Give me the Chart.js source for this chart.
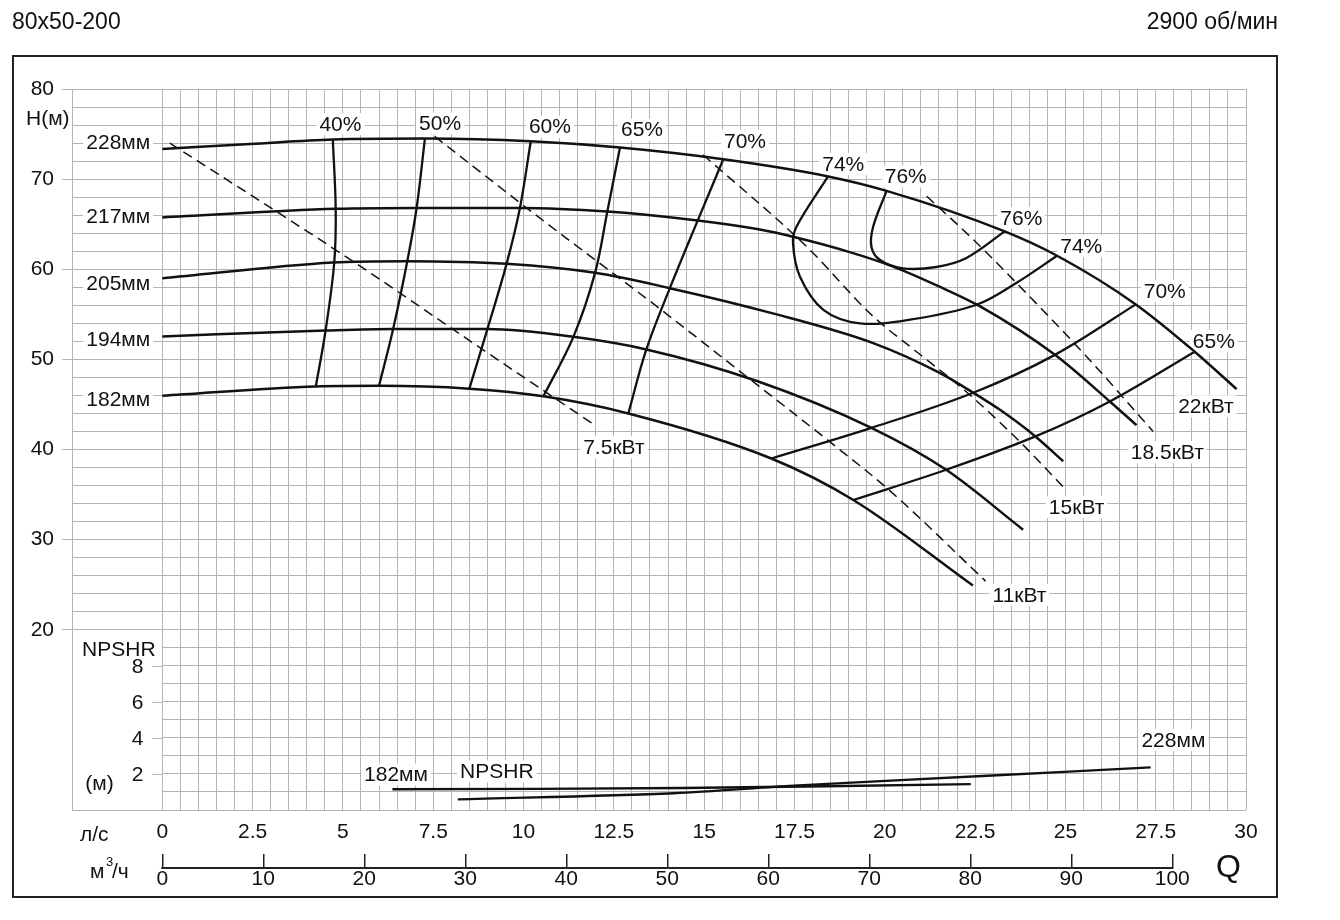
<!DOCTYPE html>
<html>
<head>
<meta charset="utf-8">
<script src="https://cdn.jsdelivr.net/npm/chart.js@4.4.1/dist/chart.umd.min.js"></script>
<style>
  html, body { margin: 0; padding: 0; background: #fff; }
  canvas { display: block; }
</style>
</head>
<body>
<canvas id="myChart" width="1340" height="920"></canvas>
<script>
// H-Q curves for the impeller diameters, [Q л/с, H м]
const hq228 = [[0, 73.35], [2.43, 73.9], [4.72, 74.4], [7.27, 74.5], [10.2, 74.2], [12.67, 73.5], [15.53, 72.2], [18.43, 70.3], [20.05, 68.7], [23.32, 64.2], [24.77, 61.5], [26.95, 56.1], [28.58, 50.85], [29.74, 46.7]];
const hq217 = [[0, 65.75], [4.8, 66.7], [7.04, 66.8], [9.9, 66.8], [12.32, 66.4], [14.82, 65.4], [16.54, 64.4], [17.46, 63.6], [19.03, 61.9], [20.23, 60.3], [21.5, 58.1], [22.63, 55.9], [24.71, 50.5], [26.23, 45.33], [26.97, 42.7]];
const hq205 = [[0, 59.0], [4.73, 60.75], [6.76, 60.9], [9.53, 60.6], [11.98, 59.6], [14.05, 57.9], [16.9, 55.1], [19.68, 51.8], [21.52, 48.5], [22.45, 46.3], [23.19, 44.4], [24.17, 41.45], [24.94, 38.7]];
const hq194 = [[0, 52.55], [4.52, 53.2], [6.39, 53.36], [9.0, 53.36], [11.38, 52.5], [13.4, 51.1], [16.46, 47.6], [19.63, 42.4], [21.7, 37.75], [23.83, 31.1]];
const hq182 = [[0, 45.96], [4.25, 47.0], [6.0, 47.07], [8.5, 46.75], [10.55, 45.9], [12.9, 44.0], [16.86, 39.0], [19.13, 34.4], [22.44, 24.9]];

// iso-efficiency lines
const eff40 = [[4.72, 74.4], [4.8, 66.7], [4.76, 60.75], [4.52, 53.2], [4.25, 47.0]];
const eff50 = [[7.27, 74.5], [7.04, 66.8], [6.78, 60.85], [6.39, 53.36], [6.0, 47.07]];
const eff60 = [[10.2, 74.2], [9.9, 66.8], [9.53, 60.6], [9.0, 53.36], [8.5, 46.75]];
const eff65 = [[12.67, 73.5], [12.32, 66.4], [11.98, 59.6], [11.38, 52.5], [10.55, 45.9]];
const eff70 = [[15.53, 72.2], [14.82, 65.4], [14.05, 57.9], [13.4, 51.1], [12.9, 44.0]];
const eff74 = [[18.43, 70.3], [17.56, 64.75], [17.46, 62.9], [17.65, 59.2], [18.3, 55.5], [19.31, 54.0], [20.7, 54.4], [22.54, 56.06], [23.65, 58.5], [24.77, 61.5]];
const eff76 = [[20.05, 68.7], [19.68, 64.75], [19.63, 62.5], [19.86, 61.05], [20.5, 60.1], [21.43, 60.25], [22.26, 61.25], [23.32, 64.2]];
const eff70r = [[16.86, 39.0], [19.63, 42.4], [22.45, 46.3], [24.71, 50.5], [26.95, 56.1]];
const eff65r = [[19.13, 34.4], [21.7, 37.75], [24.17, 41.45], [26.23, 45.33], [28.58, 50.85]];

// power lines (dashed)
const pw7_5 = [[0.21, 74.0], [5.28, 60.87], [8.88, 51.06], [11.96, 42.74]];
const pw11 = [[7.54, 74.74], [10.64, 65.1], [11.98, 61.05], [13.68, 55.9], [16.3, 47.7], [18.4, 41.1], [20.12, 35.5], [22.79, 25.4]];
const pw15 = [[14.97, 72.7], [17.84, 62.5], [19.68, 54.76], [20.81, 51.07], [22.2, 46.6], [23.68, 41.1], [24.93, 35.9]];
const pw18_5 = [[21.16, 68.1], [22.45, 63.3], [24.1, 56.6], [25.59, 50.3], [27.43, 42.0]];

// NPSHR, [Q л/с, NPSHR м]
const npshr182 = [[6.37, 1.15], [14.4, 1.22], [22.38, 1.43]];
const npshr228 = [[8.18, 0.59], [14.16, 0.93], [17.48, 1.35], [22.84, 1.9], [27.36, 2.37]];

// labels [text, Q, H]
const diameterLabels = [['228мм', -1.22, 74.1], ['217мм', -1.22, 65.94], ['205мм', -1.22, 58.4], ['194мм', -1.22, 52.2], ['182мм', -1.22, 45.6]];
const effLabels = [['40%', 4.93, 76.1], ['50%', 7.69, 76.16], ['60%', 10.73, 75.82], ['65%', 13.28, 75.49], ['70%', 16.13, 74.26], ['74%', 18.85, 71.66], ['76%', 20.58, 70.3], ['76%', 23.78, 65.7], ['74%', 25.44, 62.56], ['70%', 27.75, 57.6], ['65%', 29.11, 52.05]];
const powerLabels = [['7.5кВт', 12.5, 40.24], ['11кВт', 23.73, 23.87], ['15кВт', 25.31, 33.6], ['18.5кВт', 27.82, 39.69], ['22кВт', 28.89, 44.8]];
// [text, Q, NPSHR]
const npshrLabels = [['182мм', 6.47, 1.97], ['NPSHR', 9.26, 2.14], ['228мм', 27.99, 3.89]];
const npshrTicks = [2, 4, 6, 8];
const flowTicksM3h = [0, 10, 20, 30, 40, 50, 60, 70, 80, 90, 100];

const gridColor = '#b4b4b4';
const ink = '#111';
const fontFamily = '"Liberation Sans", Arial, sans-serif';
const labelFont = '21px ' + fontFamily;

Chart.defaults.font.family = fontFamily;
Chart.defaults.font.size = 21;
Chart.defaults.color = ink;

function toPoints(arr) {
  return arr.map(p => ({ x: p[0], y: p[1] }));
}

function curve(arr, opts) {
  return Object.assign({
    data: toPoints(arr),
    borderColor: ink,
    borderWidth: 2.5,
    pointRadius: 0,
    fill: false,
    tension: 0.4,
    xAxisID: 'x',
    yAxisID: 'y',
  }, opts || {});
}

const datasets = [];
[hq228, hq217, hq205, hq194, hq182].forEach(c => datasets.push(curve(c, { cubicInterpolationMode: 'monotone' })));
[eff40, eff50, eff60, eff65, eff70, eff74, eff76, eff70r, eff65r].forEach(c => datasets.push(curve(c, { tension: 0.35, borderWidth: 2.3 })));
[pw7_5, pw11, pw15, pw18_5].forEach(c => datasets.push(curve(c, { cubicInterpolationMode: 'monotone', borderWidth: 1.5, borderDash: [10, 6] })));
[npshr182, npshr228].forEach(c => datasets.push(curve(c, { yAxisID: 'y1', borderWidth: 2.3, tension: 0.3 })));

// all text labels with their pixel anchor
function textItems(chart) {
  const x = chart.scales.x, y = chart.scales.y, y1 = chart.scales.y1;
  const items = [];
  diameterLabels.concat(effLabels, powerLabels).forEach(l => {
    items.push({ t: l[0], px: x.getPixelForValue(l[1]), py: y.getPixelForValue(l[2]), align: 'center' });
  });
  npshrLabels.forEach(l => {
    items.push({ t: l[0], px: x.getPixelForValue(l[1]), py: y1.getPixelForValue(l[2]), align: 'center' });
  });
  npshrTicks.forEach(v => {
    items.push({ t: String(v), px: x.getPixelForValue(0) - 19, py: y1.getPixelForValue(v), align: 'right' });
  });
  items.push({ t: 'NPSHR', px: x.getPixelForValue(-2.22), py: y.getPixelForValue(17.87), align: 'left' });
  items.push({ t: '(м)', px: x.getPixelForValue(-2.13), py: y.getPixelForValue(3.0), align: 'left' });
  return items;
}

const decorations = {
  id: 'decorations',
  beforeDatasetsDraw(chart) {
    const ctx = chart.ctx, x = chart.scales.x, y = chart.scales.y;
    ctx.save();
    ctx.fillStyle = '#fff';
    // the NPSHR field has no grid left of Q = 0
    const l = x.getPixelForValue(-2.5), r = x.getPixelForValue(0);
    const t = y.getPixelForValue(20), b = y.getPixelForValue(0);
    ctx.fillRect(l + 1, t + 1, r - l - 1.5, b - t - 2);
    ctx.font = labelFont;
    textItems(chart).forEach(it => {
      const w = ctx.measureText(it.t).width;
      const left = it.align === 'center' ? it.px - w / 2 : (it.align === 'right' ? it.px - w : it.px);
      ctx.fillRect(left - 3, it.py - 11, w + 6, 22);
    });
    ctx.restore();
  },
  afterDatasetsDraw(chart) {
    const ctx = chart.ctx, x = chart.scales.x, y1 = chart.scales.y1;
    ctx.save();
    // small ticks of the NPSHR scale
    ctx.strokeStyle = gridColor;
    ctx.lineWidth = 1;
    npshrTicks.forEach(v => {
      const py = Math.round(y1.getPixelForValue(v)) + 0.5;
      ctx.beginPath();
      ctx.moveTo(x.getPixelForValue(0) - 10, py);
      ctx.lineTo(x.getPixelForValue(0), py);
      ctx.stroke();
    });
    ctx.fillStyle = ink;
    ctx.font = labelFont;
    ctx.textBaseline = 'middle';
    textItems(chart).forEach(it => {
      ctx.textAlign = it.align;
      ctx.fillText(it.t, it.px, it.py + 1);
    });
    ctx.restore();
  },
  afterDraw(chart) {
    const ctx = chart.ctx, y = chart.scales.y, x2 = chart.scales.x2;
    ctx.save();
    // m3/h axis line
    ctx.strokeStyle = '#222';
    ctx.lineWidth = 2;
    const ly = x2.top + 14;
    ctx.beginPath();
    ctx.moveTo(x2.getPixelForValue(flowTicksM3h[0]) - 1, ly);
    ctx.lineTo(x2.getPixelForValue(flowTicksM3h[flowTicksM3h.length - 1]) + 1, ly);
    ctx.stroke();

    ctx.fillStyle = ink;
    ctx.font = labelFont;
    ctx.textBaseline = 'middle';
    ctx.textAlign = 'left';
    ctx.fillText('H(м)', 26, y.getPixelForValue(76.6));
    ctx.fillText('л/с', 80, 835);
    ctx.fillText('м', 90, 872);
    ctx.fillText('/ч', 112, 872);
    ctx.font = '13px ' + fontFamily;
    ctx.fillText('3', 106, 862);
    ctx.font = '32px ' + fontFamily;
    ctx.fillText('Q', 1216, 868);

    ctx.font = '23px ' + fontFamily;
    ctx.fillText('80x50-200', 12, 23);
    ctx.textAlign = 'right';
    ctx.fillText('2900 об/мин', 1278, 23);

    // outer frame
    ctx.strokeStyle = '#222';
    ctx.lineWidth = 2;
    ctx.strokeRect(13, 56, 1264, 841);
    ctx.restore();
  }
};

const isMajorH = v => v >= 20 && v % 10 === 0;
const isFlowLabel = v => v >= 0 && Math.abs(v / 2.5 - Math.round(v / 2.5)) < 1e-6;

const config = {
  type: 'line',
  data: { datasets: datasets },
  options: {
    responsive: false,
    animation: false,
    devicePixelRatio: 1,
    layout: { padding: { top: 89, right: 94, left: 0, bottom: 0 } },
    plugins: { legend: { display: false }, tooltip: { enabled: false } },
    scales: {
      x: {
        type: 'linear', position: 'bottom', min: -2.5, max: 30, weight: 0,
        afterFit: s => { s.height = 44; },
        ticks: {
          stepSize: 0.5, autoSkip: false, maxRotation: 0, minRotation: 0, padding: 10,
          callback: v => isFlowLabel(v) ? String(v) : ''
        },
        grid: {
          color: c => (c.tick && c.tick.value < 0 && c.tick.value > -2.5) ? 'rgba(0,0,0,0)' : gridColor,
          lineWidth: 1, drawTicks: false
        },
        border: { display: false }
      },
      x2: {
        type: 'linear', position: 'bottom', min: -8.94, max: 107.3, weight: 1,
        afterFit: s => { s.height = 66; },
        afterBuildTicks: s => { s.ticks = flowTicksM3h.map(v => ({ value: v })); },
        ticks: { autoSkip: false, maxRotation: 0, minRotation: 0, padding: 1, font: { size: 21, lineHeight: 1 } },
        grid: { drawOnChartArea: false, drawTicks: true, tickLength: 14, tickColor: '#222', lineWidth: 1.5 },
        border: { display: false }
      },
      y: {
        type: 'linear', position: 'left', min: 0, max: 80,
        afterFit: s => { s.width = 72; },
        ticks: { stepSize: 2, autoSkip: false, padding: 8, callback: v => isMajorH(v) ? String(v) : '' },
        grid: {
          color: gridColor, lineWidth: 1, tickLength: 10,
          tickColor: c => (c.tick && isMajorH(c.tick.value)) ? gridColor : 'rgba(0,0,0,0)'
        },
        border: { display: true, color: gridColor }
      },
      y1: { type: 'linear', position: 'right', min: 0, max: 40, display: false }
    }
  },
  plugins: [decorations]
};

let chart;
function createChart() {
  const ctx = document.getElementById('myChart').getContext('2d');
  if (chart) chart.destroy();
  chart = new Chart(ctx, config);
}
createChart();
</script>
</body>
</html>
